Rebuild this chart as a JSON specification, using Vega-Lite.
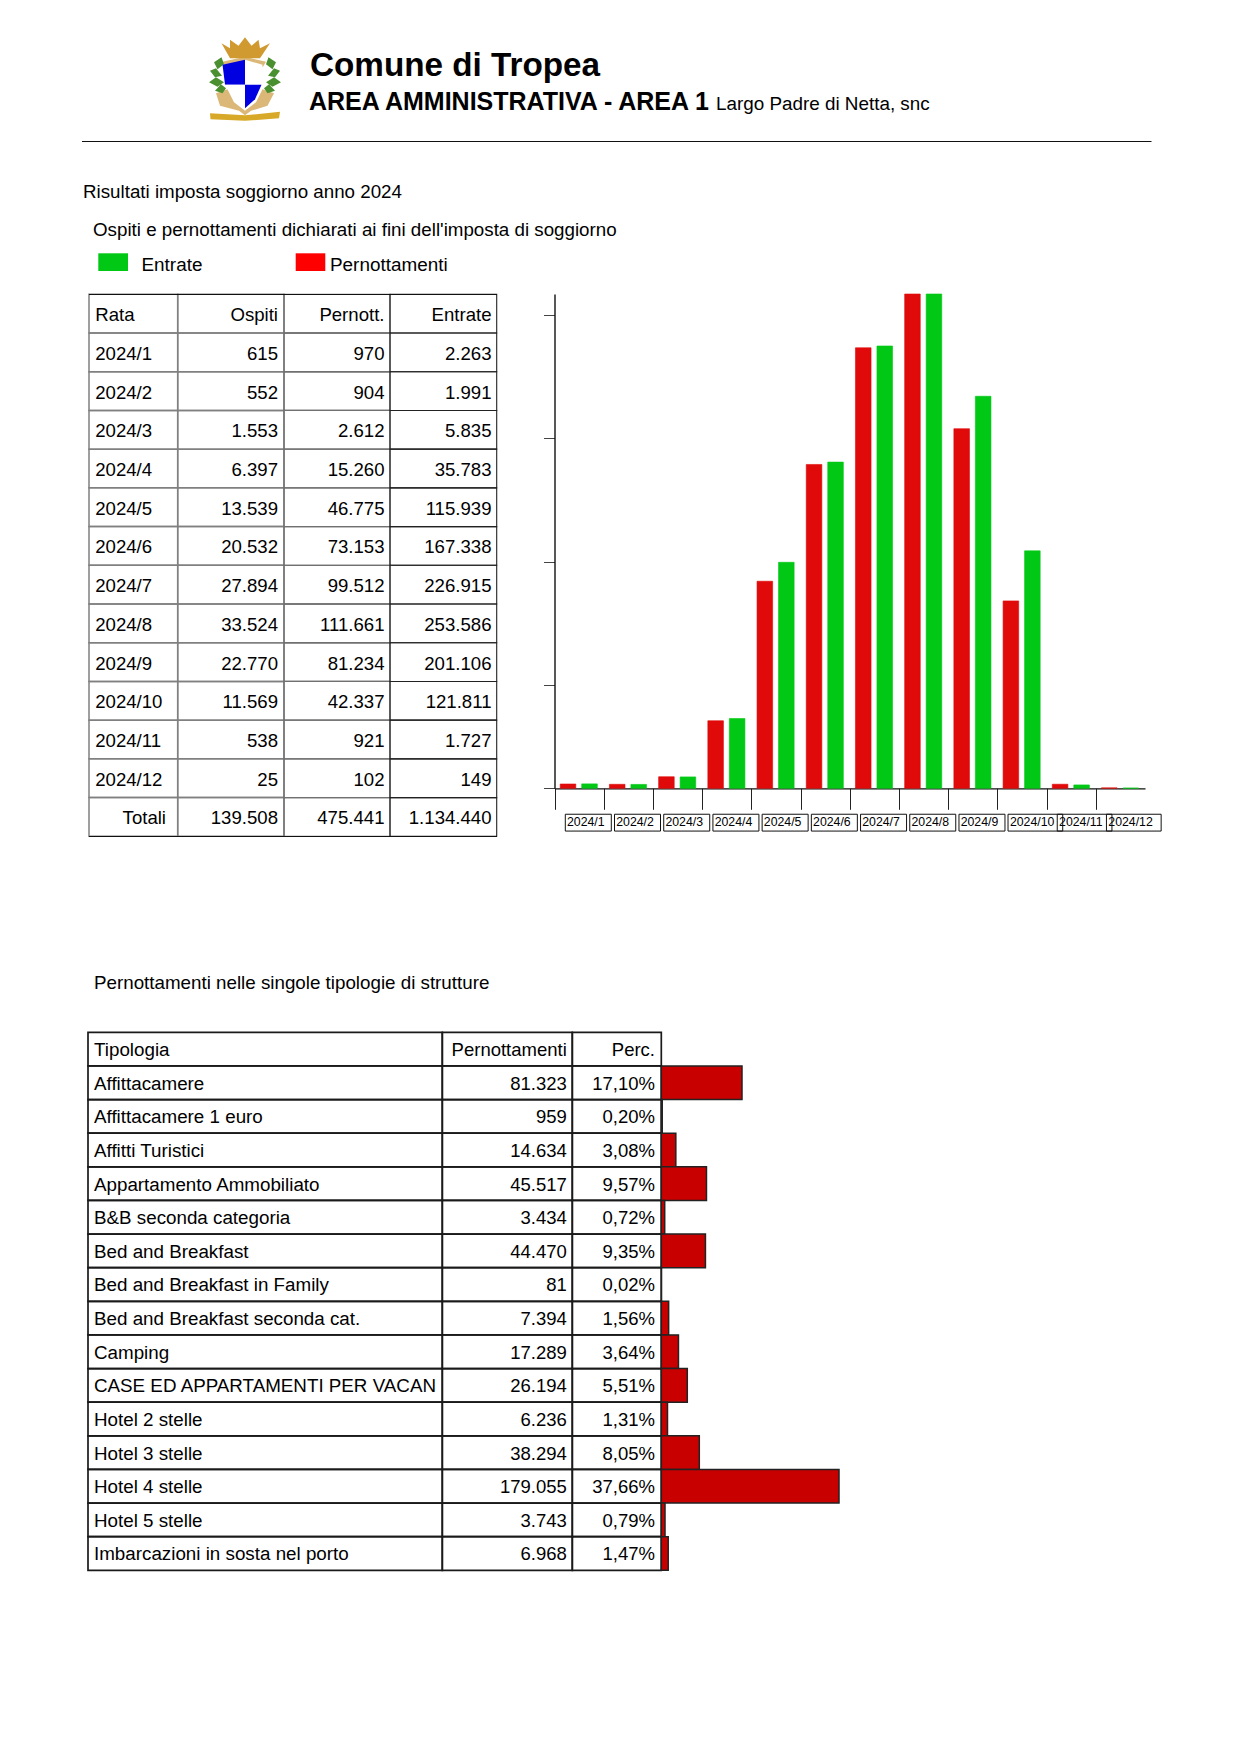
{
"$schema":"https://vega.github.io/schema/vega-lite/v6.json",
"width":1240,"height":1755,"padding":0,
"autosize":{"type":"fit","contains":"padding"},
"background":"white",
"config":{"view":{"stroke":null},"text":{"font":"Liberation Sans","color":"#000000"},"axis":{"labelFont":"Liberation Sans"}},
"datasets":{
"mesi":[
{"rata":"2024/1","pernottamenti":970,"entrate":2263},
{"rata":"2024/2","pernottamenti":904,"entrate":1991},
{"rata":"2024/3","pernottamenti":2612,"entrate":5835},
{"rata":"2024/4","pernottamenti":15260,"entrate":35783},
{"rata":"2024/5","pernottamenti":46775,"entrate":115939},
{"rata":"2024/6","pernottamenti":73153,"entrate":167338},
{"rata":"2024/7","pernottamenti":99512,"entrate":226915},
{"rata":"2024/8","pernottamenti":111661,"entrate":253586},
{"rata":"2024/9","pernottamenti":81234,"entrate":201106},
{"rata":"2024/10","pernottamenti":42337,"entrate":121811},
{"rata":"2024/11","pernottamenti":921,"entrate":1727},
{"rata":"2024/12","pernottamenti":102,"entrate":149}
],
"tabella1":[
{"rata":"Rata","ospiti":"Ospiti","pernott":"Pernott.","entrate":"Entrate"},
{"rata":"2024/1","ospiti":"615","pernott":"970","entrate":"2.263"},
{"rata":"2024/2","ospiti":"552","pernott":"904","entrate":"1.991"},
{"rata":"2024/3","ospiti":"1.553","pernott":"2.612","entrate":"5.835"},
{"rata":"2024/4","ospiti":"6.397","pernott":"15.260","entrate":"35.783"},
{"rata":"2024/5","ospiti":"13.539","pernott":"46.775","entrate":"115.939"},
{"rata":"2024/6","ospiti":"20.532","pernott":"73.153","entrate":"167.338"},
{"rata":"2024/7","ospiti":"27.894","pernott":"99.512","entrate":"226.915"},
{"rata":"2024/8","ospiti":"33.524","pernott":"111.661","entrate":"253.586"},
{"rata":"2024/9","ospiti":"22.770","pernott":"81.234","entrate":"201.106"},
{"rata":"2024/10","ospiti":"11.569","pernott":"42.337","entrate":"121.811"},
{"rata":"2024/11","ospiti":"538","pernott":"921","entrate":"1.727"},
{"rata":"2024/12","ospiti":"25","pernott":"102","entrate":"149"},
{"rata":"Totali","ospiti":"139.508","pernott":"475.441","entrate":"1.134.440"}
],
"tabella2":[
{"tipologia":"Tipologia","pern_txt":"Pernottamenti","perc":"Perc."},
{"tipologia":"Affittacamere","pern_txt":"81.323","perc":"17,10%","pernottamenti":81323},
{"tipologia":"Affittacamere 1 euro","pern_txt":"959","perc":"0,20%","pernottamenti":959},
{"tipologia":"Affitti Turistici","pern_txt":"14.634","perc":"3,08%","pernottamenti":14634},
{"tipologia":"Appartamento Ammobiliato","pern_txt":"45.517","perc":"9,57%","pernottamenti":45517},
{"tipologia":"B&B seconda categoria","pern_txt":"3.434","perc":"0,72%","pernottamenti":3434},
{"tipologia":"Bed and Breakfast","pern_txt":"44.470","perc":"9,35%","pernottamenti":44470},
{"tipologia":"Bed and Breakfast in Family","pern_txt":"81","perc":"0,02%","pernottamenti":81},
{"tipologia":"Bed and Breakfast seconda cat.","pern_txt":"7.394","perc":"1,56%","pernottamenti":7394},
{"tipologia":"Camping","pern_txt":"17.289","perc":"3,64%","pernottamenti":17289},
{"tipologia":"CASE ED APPARTAMENTI PER VACAN","pern_txt":"26.194","perc":"5,51%","pernottamenti":26194},
{"tipologia":"Hotel 2 stelle","pern_txt":"6.236","perc":"1,31%","pernottamenti":6236},
{"tipologia":"Hotel 3 stelle","pern_txt":"38.294","perc":"8,05%","pernottamenti":38294},
{"tipologia":"Hotel 4 stelle","pern_txt":"179.055","perc":"37,66%","pernottamenti":179055},
{"tipologia":"Hotel 5 stelle","pern_txt":"3.743","perc":"0,79%","pernottamenti":3743},
{"tipologia":"Imbarcazioni in sosta nel porto","pern_txt":"6.968","perc":"1,47%","pernottamenti":6968}
],
"stemma":[
{"stemma":"Tropea","parte":"cornice"},
{"stemma":"Tropea","parte":"foglie1"},
{"stemma":"Tropea","parte":"foglie2"},
{"stemma":"Tropea","parte":"corona"},
{"stemma":"Tropea","parte":"nastro"},
{"stemma":"Tropea","parte":"blu1"},
{"stemma":"Tropea","parte":"bianco1"},
{"stemma":"Tropea","parte":"bianco2"},
{"stemma":"Tropea","parte":"blu2"}
]
},
"resolve":{"scale":{"x":"independent","y":"independent"}},
"layer":[
{"data":{"name":"stemma"},
 "mark":{"type":"point","filled":true,"size":10000,"opacity":1,"strokeWidth":0},
 "encoding":{
  "x":{"field":"stemma","type":"nominal","axis":null,"scale":{"type":"point","range":[245,245]}},
  "y":{"field":"stemma","type":"nominal","axis":null,"scale":{"type":"point","range":[83.3,83.3]}},
  "shape":{"field":"parte","type":"nominal","legend":null,"scale":{"domain":["cornice","foglie1","foglie2","corona","nastro","blu1","bianco1","bianco2","blu2"],"range":[
   "M -.58 .2 L -.35 .12 L -.22 .38 L 0 .55 L .22 .38 L .35 .12 L .58 .2 L .45 .45 L .12 .55 L 0 .64 L -.12 .55 L -.5 .45 Z M -.45 -.43 L 0 -.53 L .42 -.43 L .36 -.33 L -.4 -.33 Z",
   "M -.47 -.52 L -.62 -.42 L -.55 -.28 L -.42 -.38 Z M -.7 -.25 L -.58 -.3 L -.46 -.15 L -.6 -.12 Z M -.72 -.02 L -.58 -.12 L -.42 -.02 L -.55 .07 Z M -.6 .15 L -.48 .02 L -.38 .1 L -.45 .2 Z",
   "M .47 -.52 L .62 -.42 L .55 -.28 L .42 -.38 Z M .7 -.25 L .58 -.3 L .46 -.15 L .6 -.12 Z M .72 -.02 L .58 -.12 L .42 -.02 L .55 .07 Z M .6 .15 L .48 .02 L .38 .1 L .45 .2 Z",
   "M -.47 -.8 L -.3 -.7 L -.3 -.87 L -.13 -.75 L 0 -.92 L .13 -.75 L .27 -.87 L .3 -.7 L .5 -.8 L .3 -.5 L -.3 -.5 Z",
   "M -.7 .6 L 0 .64 L .7 .57 L .68 .7 L 0 .75 L -.69 .72 Z",
   "M -.45 -.37 L 0 -.47 L 0 .03 L -.4 .03 Z",
   "M 0 -.47 L .35 -.37 L .33 .03 L 0 .03 Z",
   "M -.4 .03 L 0 .03 L 0 .5 L -.22 .32 Z",
   "M 0 .03 L .33 .03 L .2 .32 L 0 .5 Z"
  ]}},
  "fill":{"field":"parte","type":"nominal","legend":null,"scale":{"domain":["cornice","foglie1","foglie2","corona","nastro","blu1","bianco1","bianco2","blu2"],"range":["#dcb878","#4a9030","#4a9030","#d09a30","#d8a828","#0000e0","#ffffff","#ffffff","#0000e0"]}}
 }},
{"data":{"values":[{"testo":"Comune di Tropea"}]},
 "mark":{"type":"text","align":"left","baseline":"alphabetic","fontSize":33.25,"fontWeight":"bold"},
 "encoding":{"x":{"field":"testo","type":"nominal","axis":null,"scale":{"type":"point","range":[310,310]}},"y":{"field":"testo","type":"nominal","axis":null,"scale":{"type":"point","range":[76,76]}},"text":{"field":"testo"}}},
{"data":{"values":[{"testo":"AREA AMMINISTRATIVA - AREA 1"}]},
 "mark":{"type":"text","align":"left","baseline":"alphabetic","fontSize":25,"fontWeight":"bold"},
 "encoding":{"x":{"field":"testo","type":"nominal","axis":null,"scale":{"type":"point","range":[309,309]}},"y":{"field":"testo","type":"nominal","axis":null,"scale":{"type":"point","range":[110,110]}},"text":{"field":"testo"}}},
{"data":{"values":[{"testo":"Largo Padre di Netta, snc"}]},
 "mark":{"type":"text","align":"left","baseline":"alphabetic","fontSize":18.85},
 "encoding":{"x":{"field":"testo","type":"nominal","axis":null,"scale":{"type":"point","range":[716,716]}},"y":{"field":"testo","type":"nominal","axis":null,"scale":{"type":"point","range":[110,110]}},"text":{"field":"testo"}}},
{"data":{"values":[{"linea":"intestazione"}]},
 "mark":{"type":"rect","fill":"#111111"},
 "encoding":{"x":{"field":"linea","type":"nominal","axis":null,"scale":{"type":"band","range":[82,1151.5]}},"y":{"field":"linea","type":"nominal","axis":null,"scale":{"type":"band","range":[141,142]}}}},
{"data":{"values":[{"testo":"Risultati imposta soggiorno anno 2024"}]},
 "mark":{"type":"text","align":"left","baseline":"alphabetic","fontSize":18.75},
 "encoding":{"x":{"field":"testo","type":"nominal","axis":null,"scale":{"type":"point","range":[83,83]}},"y":{"field":"testo","type":"nominal","axis":null,"scale":{"type":"point","range":[197.7,197.7]}},"text":{"field":"testo"}}},
{"data":{"values":[{"testo":"Ospiti e pernottamenti dichiarati ai fini dell'imposta di soggiorno"}]},
 "mark":{"type":"text","align":"left","baseline":"alphabetic","fontSize":18.75},
 "encoding":{"x":{"field":"testo","type":"nominal","axis":null,"scale":{"type":"point","range":[93,93]}},"y":{"field":"testo","type":"nominal","axis":null,"scale":{"type":"point","range":[235.7,235.7]}},"text":{"field":"testo"}}},
{"data":{"values":[{"serie":"Entrate"}]},
 "mark":{"type":"rect","fill":"#00c814"},
 "encoding":{"x":{"field":"serie","type":"nominal","axis":null,"scale":{"type":"band","range":[98.3,128]}},"y":{"field":"serie","type":"nominal","axis":null,"scale":{"type":"band","range":[253.3,271]}}}},
{"data":{"values":[{"serie":"Pernottamenti"}]},
 "mark":{"type":"rect","fill":"#ff0000"},
 "encoding":{"x":{"field":"serie","type":"nominal","axis":null,"scale":{"type":"band","range":[295.7,325.3]}},"y":{"field":"serie","type":"nominal","axis":null,"scale":{"type":"band","range":[253.3,271]}}}},
{"data":{"values":[{"serie":"Entrate"}]},
 "mark":{"type":"text","align":"left","baseline":"alphabetic","fontSize":18.9},
 "encoding":{"x":{"field":"serie","type":"nominal","axis":null,"scale":{"type":"point","range":[141.5,141.5]}},"y":{"field":"serie","type":"nominal","axis":null,"scale":{"type":"point","range":[270.8,270.8]}},"text":{"field":"serie"}}},
{"data":{"values":[{"serie":"Pernottamenti"}]},
 "mark":{"type":"text","align":"left","baseline":"alphabetic","fontSize":18.9},
 "encoding":{"x":{"field":"serie","type":"nominal","axis":null,"scale":{"type":"point","range":[330,330]}},"y":{"field":"serie","type":"nominal","axis":null,"scale":{"type":"point","range":[270.8,270.8]}},"text":{"field":"serie"}}},
{"data":{"name":"tabella1"},
 "encoding":{"y":{"field":"rata","type":"nominal","axis":null,"scale":{"type":"band","range":[294.3,836.3],"paddingInner":0,"paddingOuter":0,"domain":["Rata","2024/1","2024/2","2024/3","2024/4","2024/5","2024/6","2024/7","2024/8","2024/9","2024/10","2024/11","2024/12","Totali"]}}},
 "resolve":{"scale":{"x":"independent"}},
 "layer":[
  {"mark":{"type":"rect","fill":"transparent","stroke":"#808080","strokeWidth":1.5},"encoding":{"x":{"datum":"Rata","type":"nominal","axis":null,"scale":{"type":"band","domain":["Rata"],"range":[89,177.7]}}}},
  {"mark":{"type":"rect","fill":"transparent","stroke":"#808080","strokeWidth":1.5},"encoding":{"x":{"datum":"Ospiti","type":"nominal","axis":null,"scale":{"type":"band","domain":["Ospiti"],"range":[177.7,284]}}}},
  {"mark":{"type":"rect","fill":"transparent","stroke":"#707070","strokeWidth":1.3},"encoding":{"x":{"datum":"Pernott","type":"nominal","axis":null,"scale":{"type":"band","domain":["Pernott"],"range":[284,390]}}}},
  {"mark":{"type":"rect","fill":"transparent","stroke":"#222222","strokeWidth":1.1},"encoding":{"x":{"datum":"Entrate","type":"nominal","axis":null,"scale":{"type":"band","domain":["Entrate"],"range":[390,496.7]}}}},
  {"transform":[{"filter":"datum.rata !== 'Totali'"}],"mark":{"type":"text","align":"left","baseline":"alphabetic","fontSize":18.6,"dy":7.5},"encoding":{"x":{"datum":"Rata","type":"nominal","axis":null,"bandPosition":0,"scale":{"type":"band","domain":["Rata"],"range":[95.2,177.7]}},"text":{"field":"rata"}}},
  {"transform":[{"filter":"datum.rata === 'Totali'"}],"mark":{"type":"text","align":"right","baseline":"alphabetic","fontSize":18.6,"dy":7.5},"encoding":{"x":{"datum":"Rata","type":"nominal","axis":null,"bandPosition":1,"scale":{"type":"band","domain":["Rata"],"range":[89,166]}},"text":{"field":"rata"}}},
  {"mark":{"type":"text","align":"right","baseline":"alphabetic","fontSize":18.6,"dy":7.5},"encoding":{"x":{"datum":"Ospiti","type":"nominal","axis":null,"bandPosition":1,"scale":{"type":"band","domain":["Ospiti"],"range":[177.7,278]}},"text":{"field":"ospiti"}}},
  {"mark":{"type":"text","align":"right","baseline":"alphabetic","fontSize":18.6,"dy":7.5},"encoding":{"x":{"datum":"Pernott","type":"nominal","axis":null,"bandPosition":1,"scale":{"type":"band","domain":["Pernott"],"range":[284,384.5]}},"text":{"field":"pernott"}}},
  {"mark":{"type":"text","align":"right","baseline":"alphabetic","fontSize":18.6,"dy":7.5},"encoding":{"x":{"datum":"Entrate","type":"nominal","axis":null,"bandPosition":1,"scale":{"type":"band","domain":["Entrate"],"range":[390,491.5]}},"text":{"field":"entrate"}}}
 ]},
{"data":{"values":[{"bordo":"superiore"}]},
 "mark":{"type":"rect","fill":"#111111"},
 "encoding":{"x":{"field":"bordo","type":"nominal","axis":null,"scale":{"type":"band","range":[89,497]}},"y":{"field":"bordo","type":"nominal","axis":null,"scale":{"type":"band","range":[294,295]}}}},
{"data":{"values":[{"bordo":"inferiore"}]},
 "mark":{"type":"rect","fill":"#111111"},
 "encoding":{"x":{"field":"bordo","type":"nominal","axis":null,"scale":{"type":"band","range":[89,497]}},"y":{"field":"bordo","type":"nominal","axis":null,"scale":{"type":"band","range":[836,837]}}}},
{"data":{"name":"mesi"},
 "mark":{"type":"bar","fill":"#e00a0a","stroke":"#e00a0a","strokeWidth":0.6,"width":15.6,"xOffset":-11.1},
 "encoding":{
  "x":{"field":"rata","type":"nominal","sort":null,"title":null,
   "scale":{"type":"band","range":[554.5,1145],"paddingInner":0,"paddingOuter":0},
   "axis":{"orient":"bottom","offset":-966.7,"title":null,"tickSize":21,"tickColor":"#222222","tickOffset":-24.6,"domainColor":"#111111","domainWidth":1.2,"labelAngle":0,"labelAlign":"left","labelOffset":12,"labelPadding":6,"labelBaseline":"top","labelFontSize":12.3,"labelColor":"#000000","labelOverlap":false,"labelFlush":false,"labelBound":false}},
  "y":{"field":"pernottamenti","type":"quantitative","title":null,
   "scale":{"domain":[0,111661],"nice":false,"range":[788.3,294]},
   "axis":{"orient":"left","offset":-554.5,"title":null,"values":[0,23340,51220,79100,106980],"tickSize":11,"tickColor":"#444444","domainColor":"#111111","domainWidth":1.4,"labels":false,"grid":false}}
 }},
{"data":{"name":"mesi"},
 "mark":{"type":"bar","fill":"#00c814","stroke":"#00c814","strokeWidth":0.6,"width":15.6,"xOffset":10.4},
 "encoding":{
  "x":{"field":"rata","type":"nominal","sort":null,"axis":null,"scale":{"type":"band","range":[554.5,1145],"paddingInner":0,"paddingOuter":0}},
  "y":{"field":"entrate","type":"quantitative","axis":null,"scale":{"domain":[0,253586],"nice":false,"range":[788.3,294]}}
 }},
{"data":{"name":"mesi"},
 "transform":[{"filter":"length(datum.rata) === 6"}],
 "mark":{"type":"bar","fill":"transparent","stroke":"#111111","strokeWidth":1,"width":46,"xOffset":9.2},
 "encoding":{
  "x":{"field":"rata","type":"nominal","axis":null,"scale":{"type":"band","range":[554.5,1145],"paddingInner":0,"paddingOuter":0,"domain":["2024/1","2024/2","2024/3","2024/4","2024/5","2024/6","2024/7","2024/8","2024/9","2024/10","2024/11","2024/12"]}},
  "y":{"datum":"riquadro","type":"nominal","axis":null,"scale":{"type":"band","domain":["riquadro"],"range":[813.3,832]}}
 }},
{"data":{"name":"mesi"},
 "transform":[{"filter":"length(datum.rata) === 7"}],
 "mark":{"type":"bar","fill":"transparent","stroke":"#111111","strokeWidth":1,"width":54.7,"xOffset":13.4},
 "encoding":{
  "x":{"field":"rata","type":"nominal","axis":null,"scale":{"type":"band","range":[554.5,1145],"paddingInner":0,"paddingOuter":0,"domain":["2024/1","2024/2","2024/3","2024/4","2024/5","2024/6","2024/7","2024/8","2024/9","2024/10","2024/11","2024/12"]}},
  "y":{"datum":"riquadro","type":"nominal","axis":null,"scale":{"type":"band","domain":["riquadro"],"range":[813.3,832]}}
 }},
{"data":{"values":[{"testo":"Pernottamenti nelle singole tipologie di strutture"}]},
 "mark":{"type":"text","align":"left","baseline":"alphabetic","fontSize":18.77},
 "encoding":{"x":{"field":"testo","type":"nominal","axis":null,"scale":{"type":"point","range":[94,94]}},"y":{"field":"testo","type":"nominal","axis":null,"scale":{"type":"point","range":[989,989]}},"text":{"field":"testo"}}},
{"data":{"name":"tabella2"},
 "encoding":{"y":{"field":"tipologia","type":"nominal","axis":null,"sort":null,"scale":{"type":"band","range":[1032.3,1570.3],"paddingInner":0,"paddingOuter":0,"domain":["Tipologia","Affittacamere","Affittacamere 1 euro","Affitti Turistici","Appartamento Ammobiliato","B&B seconda categoria","Bed and Breakfast","Bed and Breakfast in Family","Bed and Breakfast seconda cat.","Camping","CASE ED APPARTAMENTI PER VACAN","Hotel 2 stelle","Hotel 3 stelle","Hotel 4 stelle","Hotel 5 stelle","Imbarcazioni in sosta nel porto"]}}},
 "resolve":{"scale":{"x":"independent"}},
 "layer":[
  {"mark":{"type":"rect","fill":"transparent","stroke":"#1a1a1a","strokeWidth":1.7},"encoding":{"x":{"datum":"Tipologia","type":"nominal","axis":null,"scale":{"type":"band","domain":["Tipologia"],"range":[88,442.3]}}}},
  {"mark":{"type":"rect","fill":"transparent","stroke":"#1a1a1a","strokeWidth":1.7},"encoding":{"x":{"datum":"Pernottamenti","type":"nominal","axis":null,"scale":{"type":"band","domain":["Pernottamenti"],"range":[442.3,572.3]}}}},
  {"mark":{"type":"rect","fill":"transparent","stroke":"#1a1a1a","strokeWidth":1.7},"encoding":{"x":{"datum":"Perc","type":"nominal","axis":null,"scale":{"type":"band","domain":["Perc"],"range":[572.3,661.3]}}}},
  {"mark":{"type":"text","align":"left","baseline":"alphabetic","fontSize":18.8,"dy":7},"encoding":{"x":{"datum":"Tipologia","type":"nominal","axis":null,"bandPosition":0,"scale":{"type":"band","domain":["Tipologia"],"range":[94,442.3]}},"text":{"field":"tipologia"}}},
  {"mark":{"type":"text","align":"right","baseline":"alphabetic","fontSize":18.5,"dy":7},"encoding":{"x":{"datum":"Pernottamenti","type":"nominal","axis":null,"bandPosition":1,"scale":{"type":"band","domain":["Pernottamenti"],"range":[442.3,566.8]}},"text":{"field":"pern_txt"}}},
  {"mark":{"type":"text","align":"right","baseline":"alphabetic","fontSize":18.5,"dy":7},"encoding":{"x":{"datum":"Perc","type":"nominal","axis":null,"bandPosition":1,"scale":{"type":"band","domain":["Perc"],"range":[572.3,655]}},"text":{"field":"perc"}}},
  {"transform":[{"filter":"isValid(datum.pernottamenti)"}],"mark":{"type":"bar","fill":"#c80000","stroke":"#222222","strokeWidth":1.5},"encoding":{"x":{"field":"pernottamenti","type":"quantitative","axis":null,"scale":{"domain":[0,179055],"nice":false,"range":[661.3,839]}}}}
 ]}
]
}
